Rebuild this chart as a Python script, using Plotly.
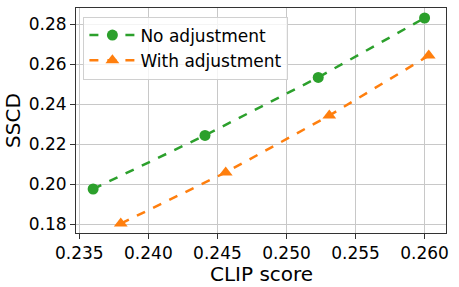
import plotly.graph_objects as go

clip_no = [0.2360, 0.2441, 0.2523, 0.2600]
sscd_no = [0.1975, 0.2243, 0.2533, 0.2830]
clip_with = [0.2380, 0.2456, 0.2531, 0.2603]
sscd_with = [0.1802, 0.2058, 0.2342, 0.2642]
x_ticks = [0.235, 0.240, 0.245, 0.250, 0.255, 0.260]
y_ticks = [0.18, 0.20, 0.22, 0.24, 0.26, 0.28]

font = "DejaVu Sans, sans-serif"
fig = go.Figure()
fig.add_trace(go.Scatter(x=clip_no, y=sscd_no, mode="lines+markers", name="No adjustment",
                         line=dict(color="#2ca02c", width=2.5, dash="dash"),
                         marker=dict(symbol="circle", size=11, color="#2ca02c")))
fig.add_trace(go.Scatter(x=clip_with, y=sscd_with, mode="lines+markers", name="With adjustment",
                         line=dict(color="#ff7f0e", width=2.5, dash="dash"),
                         marker=dict(symbol="triangle-up", size=12, color="#ff7f0e")))

axis_common = dict(showgrid=True, gridcolor="#c8c8c8", gridwidth=1,
                   showline=True, linecolor="#333333", linewidth=1, mirror=True,
                   ticks="outside", ticklen=5, tickcolor="#333333", zeroline=False,
                   automargin=False,
                   tickfont=dict(family=font, size=17, color="black"))
fig.update_xaxes(range=[0.23476, 0.26155], tickvals=x_ticks, tickformat=".3f",
                 **axis_common)
fig.update_yaxes(range=[0.1755, 0.2880], tickvals=y_ticks, tickformat=".2f",
                 title=dict(text="SSCD", font=dict(family=font, size=20, color="black"), standoff=2),
                 **axis_common)
fig.add_annotation(text="CLIP score", xref="paper", yref="paper", x=0.5, y=-0.182,
                   xanchor="center", yanchor="middle", showarrow=False,
                   font=dict(family=font, size=20, color="black"))
fig.update_layout(width=459, height=287, margin=dict(l=76, r=13, t=8, b=54),
                  plot_bgcolor="white", paper_bgcolor="white",
                  font=dict(family=font, color="black"),
                  legend=dict(x=0.02, y=0.962, xanchor="left", yanchor="top",
                              bgcolor="rgba(255,255,255,0.8)", bordercolor="#d0d0d0", borderwidth=1,
                              font=dict(family=font, size=17, color="black"), itemwidth=46,
                              tracegroupgap=0))
fig.write_html("out.html", config={"displayModeBar": False},
               post_script="document.body.style.margin='0';document.body.style.overflow='hidden';")
